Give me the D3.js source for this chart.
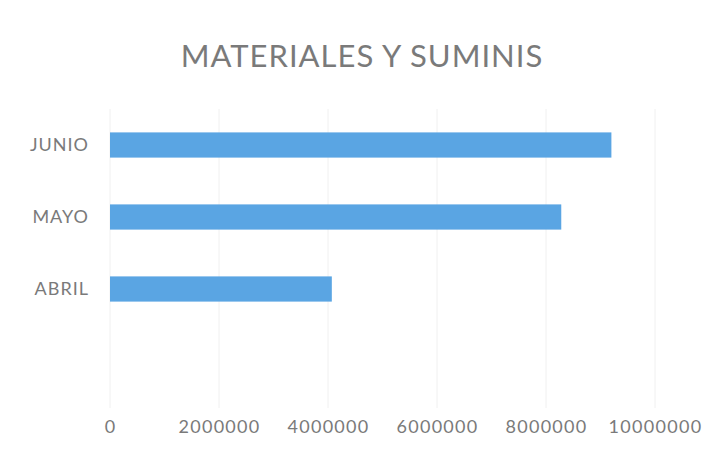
<!DOCTYPE html>
<html>
<head>
<meta charset="utf-8">
<script src="https://cdn.jsdelivr.net/npm/d3@7"></script>
<style>
  body { margin: 0; background: #fff; }
  text { font-family: Lato, "Open Sans", sans-serif; fill: #7a7a7a; }
</style>
</head>
<body>
<svg width="723" height="451"></svg>
<script>
var title = "MATERIALES Y SUMINIS";
var months = ["JUNIO", "MAYO", "ABRIL"];          // top to bottom
var amounts = [9200000, 8280000, 4070000];
var xTicks = [0, 2000000, 4000000, 6000000, 8000000, 10000000];

var svg = d3.select("svg"),
    width = +svg.attr("width"),
    height = +svg.attr("height");

var plot = { left: 110, right: 655, top: 109, bottom: 408 };

var x = d3.scaleLinear()
    .domain([0, 10000000])
    .range([plot.left, plot.right]);

var y = d3.scaleBand() // bars sit in the upper part of the plot, step 72px
    .domain(months)
    .range([plot.top, plot.top + 72 * months.length])
    .paddingInner(0.65)
    .paddingOuter(0.325);

// faint vertical gridlines
svg.append("g")
  .selectAll("line")
  .data(xTicks)
  .enter().append("line")
    .attr("x1", function(d) { return x(d); })
    .attr("x2", function(d) { return x(d); })
    .attr("y1", plot.top)
    .attr("y2", plot.bottom)
    .attr("stroke", "#f0f0f0")
    .attr("stroke-width", 1);

// bars
svg.append("g")
  .selectAll("rect")
  .data(amounts)
  .enter().append("rect")
    .attr("x", x(0))
    .attr("y", function(d, i) { return y(months[i]); })
    .attr("width", function(d) { return x(d) - x(0); })
    .attr("height", y.bandwidth())
    .attr("fill", "#5aa5e3");

// x axis labels
var xAxis = svg.append("g")
    .attr("transform", "translate(0," + plot.bottom + ")")
    .call(d3.axisBottom(x).tickValues(xTicks).tickFormat(d3.format("d")).tickSize(0).tickPadding(12));
xAxis.select(".domain").remove();
xAxis.selectAll("text")
    .style("font-size", "18px")
    .style("letter-spacing", "1.3px")
    .attr("fill", "#8a8a8a");

// category labels
var yAxis = svg.append("g")
    .attr("transform", "translate(" + plot.left + ",0)")
    .call(d3.axisLeft(y).tickSize(0).tickPadding(21));
yAxis.select(".domain").remove();
yAxis.selectAll("text")
    .style("font-size", "18px")
    .style("letter-spacing", "1px")
    .attr("fill", "#7d7d7d");

// title
svg.append("text")
    .attr("x", 362)
    .attr("y", 67)
    .attr("text-anchor", "middle")
    .style("font-size", "31px")
    .style("letter-spacing", "1px")
    .attr("fill", "#777777")
    .text(title);
</script>
</body>
</html>
